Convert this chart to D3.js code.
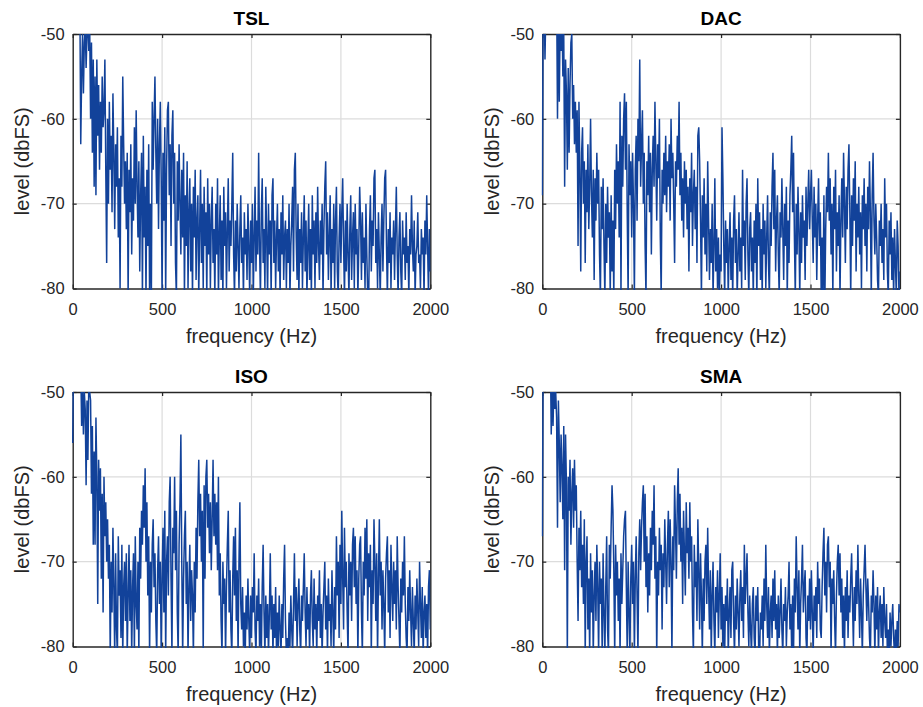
<!DOCTYPE html>
<html>
<head>
<meta charset="utf-8">
<script src="https://d3js.org/d3.v7.min.js"></script>
<style>
  body { margin: 0; background: #fff; }
  text { font-family: "Liberation Sans", Arial, Helvetica, sans-serif; }
</style>
</head>
<body>
<div id="chart"></div>
<script>
// levels in dBFS, one value every 5 Hz from 0 to 2000 Hz
var freqStep = 5;

var tslLevel = [
  -45,-45,-45,-45,-45,-45,-45,-45,-46,-63,-55,-50,-57,-51,-49,-54,-50,-48,-52,-49,
  -60,-51,-64,-53,-68,-55,-69,-53,-62,-56,-66,-58,-64,-55,-61,-59,-53,-66,-77,-60,
  -70,-58,-66,-62,-71,-57,-64,-73,-63,-68,-61,-74,-67,-80,-62,-68,-55,-63,-70,-65,
  -73,-64,-81,-66,-71,-63,-76,-67,-72,-61,-70,-59,-68,-74,-65,-78,-69,-64,-81,-62,
  -74,-68,-81,-66,-75,-63,-81,-70,-81,-58,-66,-60,-55,-64,-70,-60,-73,-63,-58,-67,
  -81,-64,-72,-61,-81,-66,-59,-58,-69,-63,-75,-62,-59,-70,-64,-77,-81,-65,-72,-63,
  -70,-76,-66,-74,-64,-81,-69,-75,-65,-80,-71,-67,-78,-70,-81,-68,-74,-66,-79,-72,
  -69,-81,-73,-66,-77,-70,-80,-68,-75,-71,-81,-67,-76,-70,-80,-72,-68,-77,-73,-81,
  -70,-76,-67,-81,-74,-69,-79,-72,-81,-68,-75,-71,-80,-73,-67,-78,-72,-75,-70,-64,
  -76,-81,-72,-78,-70,-75,-80,-73,-69,-77,-74,-81,-71,-76,-73,-79,-70,-75,-81,-72,
  -77,-70,-81,-74,-68,-78,-72,-76,-64,-75,-81,-71,-67,-77,-73,-80,-68,-74,-81,-70,
  -76,-72,-81,-69,-67,-77,-72,-80,-74,-70,-78,-73,-81,-71,-76,-69,-79,-74,-72,-80,
  -73,-77,-70,-81,-75,-72,-68,-78,-66,-64,-74,-79,-70,-81,-73,-77,-71,-80,-74,-69,
  -78,-72,-81,-75,-70,-79,-73,-81,-69,-76,-72,-80,-71,-77,-68,-75,-79,-72,-76,-70,
  -81,-73,-68,-65,-76,-71,-79,-74,-69,-81,-73,-77,-70,-80,-72,-68,-78,-81,-74,-70,
  -77,-71,-67,-75,-81,-72,-78,-70,-76,-81,-73,-69,-79,-74,-71,-80,-70,-76,-73,-81,
  -75,-68,-72,-79,-71,-77,-74,-80,-70,-76,-81,-82,-73,-69,-78,-72,-75,-67,-66,-77,
  -73,-80,-71,-76,-81,-74,-70,-78,-72,-67,-66,-75,-81,-73,-77,-71,-80,-74,-76,-72,
  -79,-73,-68,-76,-81,-74,-71,-78,-81,-72,-76,-74,-79,-71,-77,-75,-81,-73,-76,-69,
  -75,-78,-72,-81,-76,-75,-71,-77,-76,-80,-73,-76,-74,-81,-72,-76,-69,-75,-81,-73,-78
];

var dacLevel = [
  -69,-45,-46,-53,-47,-45,-45,-45,-45,-45,-45,-45,-45,-45,-45,-45,-45,-60,-46,-58,
  -48,-52,-47,-55,-50,-68,-53,-57,-66,-54,-64,-56,-51,-50,-60,-56,-63,-58,-64,-59,
  -75,-58,-66,-78,-64,-61,-70,-65,-77,-66,-71,-63,-73,-68,-60,-69,-74,-66,-79,-67,
  -72,-64,-70,-66,-76,-81,-68,-73,-67,-75,-81,-70,-77,-68,-74,-71,-81,-69,-78,-72,
  -81,-66,-73,-63,-70,-65,-74,-58,-81,-62,-68,-60,-57,-66,-58,-71,-81,-63,-69,-65,
  -74,-64,-70,-81,-66,-62,-72,-60,-65,-53,-68,-63,-59,-70,-64,-75,-81,-65,-69,-62,
  -71,-64,-76,-66,-62,-68,-58,-65,-72,-63,-67,-60,-74,-81,-66,-70,-64,-69,-62,-71,
  -65,-68,-63,-72,-60,-67,-64,-70,-77,-65,-68,-62,-66,-58,-69,-64,-72,-67,-74,-65,
  -70,-66,-73,-68,-78,-67,-71,-64,-75,-69,-66,-73,-68,-77,-62,-61,-65,-72,-81,-69,
  -74,-67,-76,-70,-78,-65,-72,-79,-73,-77,-70,-81,-75,-67,-78,-73,-80,-74,-81,-76,
  -78,-61,-67,-75,-81,-72,-77,-73,-81,-75,-71,-79,-74,-81,-72,-69,-77,-73,-81,-76,
  -71,-78,-74,-80,-66,-75,-72,-79,-70,-67,-76,-81,-73,-71,-78,-74,-81,-72,-77,-70,
  -82,-67,-75,-71,-79,-73,-81,-70,-76,-72,-80,-74,-69,-77,-81,-71,-75,-68,-64,-73,
  -66,-78,-72,-69,-76,-81,-71,-74,-67,-73,-79,-70,-75,-68,-81,-72,-77,-69,-66,-62,
  -71,-64,-74,-81,-70,-76,-68,-73,-81,-71,-77,-69,-74,-72,-79,-68,-75,-70,-66,-73,
  -69,-66,-72,-77,-68,-74,-70,-79,-72,-67,-75,-71,-81,-74,-81,-69,-82,-73,-68,-71,
  -64,-72,-67,-76,-70,-81,-68,-73,-66,-78,-71,-75,-69,-81,-72,-67,-74,-64,-70,-77,
  -68,-73,-66,-63,-71,-81,-69,-75,-67,-72,-65,-78,-70,-74,-68,-76,-71,-80,-69,-73,
  -67,-75,-70,-78,-68,-73,-65,-71,-81,-69,-64,-72,-76,-70,-74,-79,-81,-72,-75,-70,
  -77,-73,-79,-67,-74,-70,-78,-81,-72,-76,-71,-79,-74,-81,-73,-77,-81,-72,-75,-81,-78
];

var isoLevel = [
  -56,-45,-45,-45,-45,-45,-45,-45,-45,-47,-54,-49,-55,-50,-52,-61,-51,-58,-49,-50,
  -51,-62,-54,-68,-57,-68,-53,-60,-75,-58,-64,-59,-72,-62,-76,-60,-67,-63,-70,-65,
  -72,-68,-81,-70,-76,-66,-73,-81,-69,-78,-81,-67,-74,-71,-79,-68,-81,-73,-70,-77,
  -69,-81,-74,-68,-77,-71,-81,-73,-69,-81,-67,-75,-78,-70,-81,-66,-72,-64,-68,-61,
  -66,-59,-70,-63,-74,-67,-81,-70,-76,-68,-65,-73,-69,-77,-81,-71,-67,-75,-70,-81,
  -72,-66,-76,-64,-81,-70,-67,-74,-63,-60,-72,-81,-66,-69,-60,-71,-64,-76,-81,-68,
  -63,-55,-70,-81,-72,-67,-64,-75,-70,-81,-73,-68,-77,-71,-74,-81,-70,-76,-66,-72,
  -63,-58,-67,-62,-70,-64,-81,-61,-72,-60,-58,-66,-62,-69,-63,-71,-65,-58,-67,-62,
  -68,-63,-71,-60,-74,-69,-77,-81,-70,-75,-72,-81,-73,-68,-64,-76,-71,-78,-81,-72,
  -67,-74,-66,-77,-71,-81,-70,-63,-75,-78,-73,-80,-76,-81,-74,-78,-72,-77,-81,-74,
  -79,-73,-76,-69,-78,-81,-74,-77,-72,-80,-75,-81,-73,-68,-76,-81,-74,-79,-75,-81,
  -76,-69,-78,-74,-81,-75,-79,-73,-81,-76,-80,-74,-78,-81,-75,-79,-72,-68,-77,-81,
  -79,-82,-76,-80,-74,-78,-81,-75,-69,-77,-73,-80,-75,-72,-78,-81,-74,-77,-73,-69,
  -76,-80,-73,-78,-75,-81,-74,-71,-77,-80,-72,-78,-75,-81,-74,-77,-71,-79,-75,-81,
  -76,-73,-70,-78,-74,-81,-72,-77,-75,-80,-71,-76,-81,-73,-78,-67,-74,-70,-79,-68,
  -75,-64,-72,-78,-66,-73,-70,-76,-81,-69,-74,-70,-77,-68,-66,-73,-67,-75,-71,-81,
  -72,-68,-67,-76,-81,-70,-74,-66,-72,-65,-77,-69,-73,-68,-81,-71,-75,-65,-70,-77,
  -69,-81,-72,-65,-74,-70,-78,-71,-75,-81,-72,-69,-67,-76,-71,-79,-68,-73,-77,-70,
  -75,-71,-78,-67,-73,-77,-81,-72,-76,-70,-74,-67,-75,-79,-81,-73,-77,-71,-76,-80,
  -73,-77,-81,-74,-78,-72,-76,-80,-70,-75,-79,-73,-81,-76,-74,-79,-75,-81,-73,-71,-78
];

var smaLevel = [
  -67,-45,-45,-45,-45,-45,-45,-45,-45,-45,-55,-48,-54,-49,-52,-50,-53,-66,-51,-56,
  -63,-55,-59,-65,-54,-71,-55,-61,-81,-60,-64,-58,-68,-62,-59,-66,-58,-64,-61,-70,
  -77,-66,-71,-64,-73,-68,-75,-65,-81,-70,-67,-78,-72,-81,-69,-76,-71,-81,-74,-70,
  -77,-68,-73,-81,-70,-75,-72,-81,-69,-76,-81,-73,-67,-78,-81,-68,-72,-66,-61,-64,
  -71,-81,-68,-74,-70,-77,-72,-81,-69,-75,-71,-67,-65,-64,-73,-81,-70,-76,-81,-72,
  -68,-75,-70,-81,-72,-67,-74,-81,-69,-65,-71,-66,-63,-61,-70,-62,-73,-67,-76,-69,
  -74,-66,-71,-64,-68,-61,-72,-67,-81,-70,-74,-66,-71,-68,-78,-69,-73,-65,-70,-75,
  -68,-64,-73,-65,-70,-81,-67,-71,-61,-66,-72,-63,-59,-68,-62,-70,-66,-75,-64,-69,
  -74,-63,-69,-66,-72,-63,-70,-67,-76,-81,-68,-73,-70,-77,-65,-71,-78,-69,-74,-81,
  -72,-77,-70,-68,-75,-66,-73,-78,-71,-81,-74,-70,-77,-81,-73,-76,-71,-79,-74,-69,
  -78,-73,-80,-75,-81,-74,-77,-72,-81,-76,-73,-79,-71,-70,-77,-81,-74,-78,-72,-76,
  -80,-74,-71,-77,-73,-79,-68,-75,-72,-69,-76,-80,-74,-78,-81,-75,-73,-79,-81,-74,
  -77,-73,-80,-82,-76,-78,-74,-80,-72,-77,-68,-75,-79,-73,-81,-76,-74,-79,-72,-77,
  -71,-78,-75,-81,-74,-79,-76,-72,-78,-81,-75,-77,-73,-80,-76,-74,-70,-78,-75,-81,
  -74,-81,-72,-76,-67,-73,-78,-71,-81,-75,-72,-68,-76,-73,-71,-79,-81,-74,-77,-72,
  -78,-71,-76,-81,-74,-77,-73,-79,-70,-75,-72,-78,-79,-73,-69,-66,-74,-70,-76,-68,
  -67,-73,-70,-81,-72,-75,-71,-77,-81,-74,-70,-68,-74,-69,-76,-72,-79,-74,-81,-73,
  -77,-71,-79,-74,-76,-72,-69,-75,-80,-73,-77,-71,-75,-68,-74,-79,-72,-76,-81,-74,
  -71,-68,-73,-77,-72,-75,-79,-81,-74,-76,-71,-75,-81,-74,-78,-73,-81,-76,-74,-79,
  -75,-80,-73,-77,-79,-75,-81,-78,-81,-76,-80,-77,-75,-79,-81,-78,-81,-77,-80,-75,-76
];

var titles = ['TSL', 'DAC', 'ISO', 'SMA'];
var xTicks = [0, 500, 1000, 1500, 2000];
var yTicks = [-80, -70, -60, -50];
var xLabel = 'frequency (Hz)';
var yLabel = 'level (dbFS)';

var W = 923, H = 707;
var lefts = [72.7, 542.3];
var tops = [34, 392];
var pw = 357.6, ph = 254.5;
var lineColor = '#12429a';
var axisColor = '#262626';

var svg = d3.select('#chart').append('svg')
  .attr('width', W)
  .attr('height', H);

var levels = [tslLevel, dacLevel, isoLevel, smaLevel];

levels.forEach(function(level, i) {
  var col = i % 2, row = Math.floor(i / 2);
  var data = level.map(function(v, k) { return {f: k * freqStep, v: v}; });

  var x = d3.scaleLinear().domain([0, 2000]).range([0, pw]);
  var y = d3.scaleLinear().domain([-80, -50]).range([ph, 0]);

  var g = svg.append('g')
    .attr('transform', 'translate(' + lefts[col] + ',' + tops[row] + ')');

  // grid
  g.append('g').selectAll('line.vg')
    .data(xTicks.slice(1, -1)).enter().append('line')
    .attr('x1', d => x(d)).attr('x2', d => x(d))
    .attr('y1', 0).attr('y2', ph)
    .attr('stroke', '#dcdcdc').attr('stroke-width', 1.2);
  g.append('g').selectAll('line.hg')
    .data(yTicks.slice(1, -1)).enter().append('line')
    .attr('x1', 0).attr('x2', pw)
    .attr('y1', d => y(d)).attr('y2', d => y(d))
    .attr('stroke', '#dcdcdc').attr('stroke-width', 1.2);

  // axes, ticks pointing inward
  var fmt = d => String(d);
  var bottom = g.append('g')
    .attr('transform', 'translate(0,' + ph + ')')
    .call(d3.axisBottom(x).tickValues(xTicks).tickFormat(fmt).tickSizeInner(-4).tickSizeOuter(0).tickPadding(15));
  var left = g.append('g')
    .call(d3.axisLeft(y).tickValues(yTicks).tickFormat(fmt).tickSizeInner(-4).tickSizeOuter(0).tickPadding(8));
  var top = g.append('g')
    .call(d3.axisTop(x).tickValues(xTicks).tickSizeInner(-4).tickSizeOuter(0).tickFormat(''));
  var right = g.append('g')
    .attr('transform', 'translate(' + pw + ',0)')
    .call(d3.axisRight(y).tickValues(yTicks).tickSizeInner(-4).tickSizeOuter(0).tickFormat(''));

  [bottom, left, top, right].forEach(function(a) {
    a.select('.domain').attr('stroke', axisColor).attr('stroke-width', 1.4);
    a.selectAll('.tick line').attr('stroke', axisColor).attr('stroke-width', 1.2);
    a.selectAll('.tick text')
      .attr('fill', axisColor)
      .style('font-size', '16.5px')
      .style('font-family', '"Liberation Sans", Arial, sans-serif');
  });

  // spectrum, drawn over the box like the original
  var clipId = 'clip' + i;
  g.append('clipPath').attr('id', clipId)
    .append('rect')
    .attr('x', -0.7).attr('y', 0)
    .attr('width', pw + 0.7).attr('height', ph + 1.5);

  var line = d3.line()
    .x(d => x(d.f))
    .y(d => y(d.v));

  g.append('path')
    .datum(data)
    .attr('clip-path', 'url(#' + clipId + ')')
    .attr('fill', 'none')
    .attr('stroke', lineColor)
    .attr('stroke-width', 1.5)
    .attr('stroke-linejoin', 'miter')
    .attr('d', line);

  // title and labels
  g.append('text')
    .attr('x', pw / 2).attr('y', -9.5)
    .attr('text-anchor', 'middle')
    .style('font-size', '19px')
    .style('font-weight', 'bold')
    .attr('fill', '#000')
    .text(titles[i]);

  g.append('text')
    .attr('x', pw / 2).attr('y', ph + 54)
    .attr('text-anchor', 'middle')
    .style('font-size', '20px')
    .attr('fill', axisColor)
    .text(xLabel);

  g.append('text')
    .attr('transform', 'translate(-43.5,' + (ph / 2) + ') rotate(-90)')
    .attr('text-anchor', 'middle')
    .style('font-size', '20px')
    .attr('fill', axisColor)
    .text(yLabel);
});
</script>
</body>
</html>
